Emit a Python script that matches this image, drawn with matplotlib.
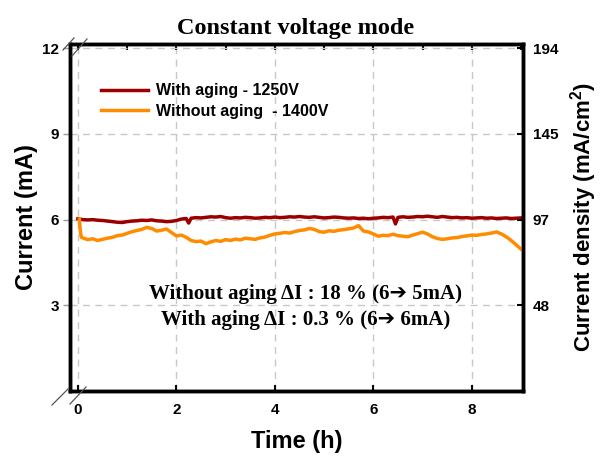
import matplotlib
matplotlib.use("Agg")
import matplotlib.pyplot as plt
from matplotlib.lines import Line2D
from matplotlib.ticker import MultipleLocator

plt.rcParams['font.family'] = ['Liberation Sans', 'DejaVu Sans']
plt.rcParams['mathtext.fontset'] = 'custom'
plt.rcParams['mathtext.rm'] = 'Liberation Sans'
plt.rcParams['mathtext.bf'] = 'Liberation Sans:bold'

# with aging, 1250 V (dark red)
t_aged = [0.0, 0.1, 0.2, 0.3, 0.4, 0.5, 0.6, 0.7, 0.8, 0.9,
          1.0, 1.1, 1.2, 1.3, 1.4, 1.5, 1.6, 1.7, 1.8, 1.9,
          2.0, 2.1, 2.2, 2.25, 2.3, 2.4, 2.5, 2.6, 2.7, 2.8, 2.9,
          3.0, 3.1, 3.2, 3.3, 3.4, 3.5, 3.6, 3.7, 3.8, 3.9,
          4.0, 4.1, 4.2, 4.3, 4.4, 4.5, 4.6, 4.7, 4.8, 4.9,
          5.0, 5.1, 5.2, 5.3, 5.4, 5.5, 5.6, 5.7, 5.8, 5.9,
          6.0, 6.1, 6.2, 6.3, 6.4, 6.45, 6.5, 6.6, 6.7, 6.8, 6.9,
          7.0, 7.1, 7.2, 7.3, 7.4, 7.5, 7.6, 7.7, 7.8, 7.9,
          8.0, 8.1, 8.2, 8.3, 8.4, 8.5, 8.6, 8.7, 8.8, 8.9, 9.0]
i_aged = [6.03, 6.00, 5.99, 6.00, 5.98, 5.97, 5.95, 5.93, 5.91, 5.90,
          5.93, 5.95, 5.96, 5.98, 5.97, 5.99, 5.96, 5.95, 5.93, 5.94,
          5.97, 6.02, 6.04, 5.88, 6.05, 6.07, 6.06, 6.08, 6.10, 6.09, 6.11,
          6.07, 6.05, 6.07, 6.06, 6.08, 6.07, 6.05, 6.06, 6.08, 6.07,
          6.09, 6.07, 6.08, 6.10, 6.09, 6.11, 6.09, 6.08, 6.10, 6.08,
          6.06, 6.07, 6.09, 6.08, 6.06, 6.05, 6.06, 6.04, 6.05, 6.03,
          6.05, 6.06, 6.08, 6.07, 6.09, 5.85, 6.08, 6.10, 6.08, 6.09, 6.11,
          6.10, 6.12, 6.10, 6.08, 6.11, 6.09, 6.07, 6.08, 6.06, 6.07,
          6.05, 6.06, 6.07, 6.05, 6.06, 6.04, 6.05, 6.06, 6.04, 6.05, 6.06]

# without aging, 1400 V (orange)
t_fresh = [0.03, 0.05, 0.07, 0.1, 0.2, 0.3, 0.4, 0.5, 0.6, 0.7, 0.8, 0.9,
           1.0, 1.1, 1.2, 1.3, 1.4, 1.5, 1.6, 1.7, 1.8, 1.9,
           2.0, 2.1, 2.2, 2.3, 2.4, 2.5, 2.6, 2.7, 2.8, 2.9,
           3.0, 3.1, 3.2, 3.3, 3.4, 3.5, 3.6, 3.7, 3.8, 3.9,
           4.0, 4.1, 4.2, 4.3, 4.4, 4.5, 4.6, 4.7, 4.8, 4.9,
           5.0, 5.1, 5.2, 5.3, 5.4, 5.5, 5.6, 5.7, 5.8, 5.9,
           6.0, 6.1, 6.2, 6.3, 6.4, 6.5, 6.6, 6.7, 6.8, 6.9,
           7.0, 7.1, 7.2, 7.3, 7.4, 7.5, 7.6, 7.7, 7.8, 7.9,
           8.0, 8.1, 8.2, 8.3, 8.4, 8.5, 8.6, 8.7, 8.8, 8.9, 9.0]
i_fresh = [6.02, 5.60, 5.38, 5.36, 5.30, 5.33, 5.27, 5.31, 5.35, 5.38, 5.44, 5.46,
           5.52, 5.58, 5.62, 5.66, 5.73, 5.69, 5.60, 5.63, 5.67, 5.55,
           5.43, 5.46, 5.38, 5.27, 5.23, 5.25, 5.16, 5.22, 5.27, 5.24,
           5.30, 5.27, 5.32, 5.29, 5.35, 5.33, 5.31, 5.36, 5.39, 5.45,
           5.50, 5.52, 5.55, 5.53, 5.58, 5.62, 5.64, 5.69, 5.66, 5.58,
           5.56, 5.61, 5.59, 5.63, 5.65, 5.68, 5.71, 5.79, 5.60, 5.57,
           5.50, 5.42, 5.45, 5.44, 5.49, 5.44, 5.42, 5.40, 5.46, 5.51,
           5.56, 5.50, 5.40, 5.34, 5.31, 5.33, 5.36, 5.37, 5.41, 5.43,
           5.46, 5.45, 5.48, 5.50, 5.53, 5.57, 5.50, 5.40, 5.27, 5.12, 4.97]

x_ticks = [0, 2, 4, 6, 8]
y_ticks = [3, 6, 9, 12]
density_labels = ['48', '97', '145', '194']

fig = plt.figure(figsize=(6.01, 4.57), dpi=100)
ax = fig.add_axes([70 / 601, 1 - 391 / 457, 453 / 601, 347 / 457])

ax.plot(t_aged, i_aged, color='#9b0000', lw=2.5, label='With aging - 1250V', zorder=3)
ax.plot(t_fresh, i_fresh, color='#ff8c00', lw=2.5, label='Without aging  - 1400V', zorder=3)

ax.set_xlim(-0.16, 9.04)
ax.set_ylim(0, 12.15)
ax.set_xticks(x_ticks)
ax.set_yticks(y_ticks)
ax.xaxis.set_minor_locator(MultipleLocator(1))
ax.grid(True, color='#c8c8c8', ls=(0, (5, 4)), lw=1)
ax.set_axisbelow(True)

for s in ax.spines.values():
    s.set_linewidth(2.5)

ax.tick_params(axis='x', which='both', direction='in', top=True, length=4, width=1.5,
               labelsize=11, pad=9)
ax.tick_params(axis='x', which='minor', bottom=False)
ax.tick_params(axis='y', direction='out', length=5, width=1, color='#999999',
               labelsize=11, pad=3)
for lab in ax.get_xticklabels() + ax.get_yticklabels():
    lab.set_fontweight('bold')

ax.set_xlabel('Time (h)', fontsize=17, fontweight='bold', labelpad=9)
ax.set_ylabel('Current (mA)', fontsize=17, fontweight='bold', labelpad=3)

ax2 = ax.twinx()
ax2.set_ylim(ax.get_ylim())
ax2.set_yticks(y_ticks)
ax2.set_yticklabels(density_labels, fontsize=11, fontweight='bold')
ax2.tick_params(axis='y', direction='in', length=4, width=1.5, pad=7)
for s in ax2.spines.values():
    s.set_linewidth(2.5)
ax2.set_ylabel('Current density (mA/cm$^\\mathbf{2}$)', fontsize=16, fontweight='bold',
               labelpad=7)

ax.legend(loc='upper left', bbox_to_anchor=(0.055, 0.905), frameon=False,
          prop={'weight': 'bold', 'size': 11.5}, handlelength=2.9, handletextpad=0.55,
          labelspacing=0.35, borderaxespad=0)

note_font = {'family': ['Liberation Serif', 'DejaVu Sans'], 'weight': 'bold', 'size': 15}
ax.text(4.62, 3.4, 'Without aging \u0394I : 18 % (6\u2794 5mA)', ha='center', va='center',
        fontdict=note_font)
ax.text(4.62, 2.5, 'With aging \u0394I : 0.3 % (6\u2794 6mA)', ha='center', va='center',
        fontdict=note_font)

fig.text(296 / 601, 1 - 34 / 457, 'Constant voltage mode', ha='center', va='baseline',
         family=['Liberation Serif', 'DejaVu Serif'], weight='bold', size=17.5)

# axis break marks at the left corners
def brk(x0, y0, x1, y1):
    fig.add_artist(Line2D([x0 / 601, x1 / 601], [1 - y0 / 457, 1 - y1 / 457],
                          color='#555555', lw=0.9, transform=fig.transFigure))

brk(63, 50, 74, 38)
brk(72, 56, 87, 39)
brk(52, 405, 68, 389)
brk(70, 404, 86, 387)

fig.savefig('out.png', dpi=100)
